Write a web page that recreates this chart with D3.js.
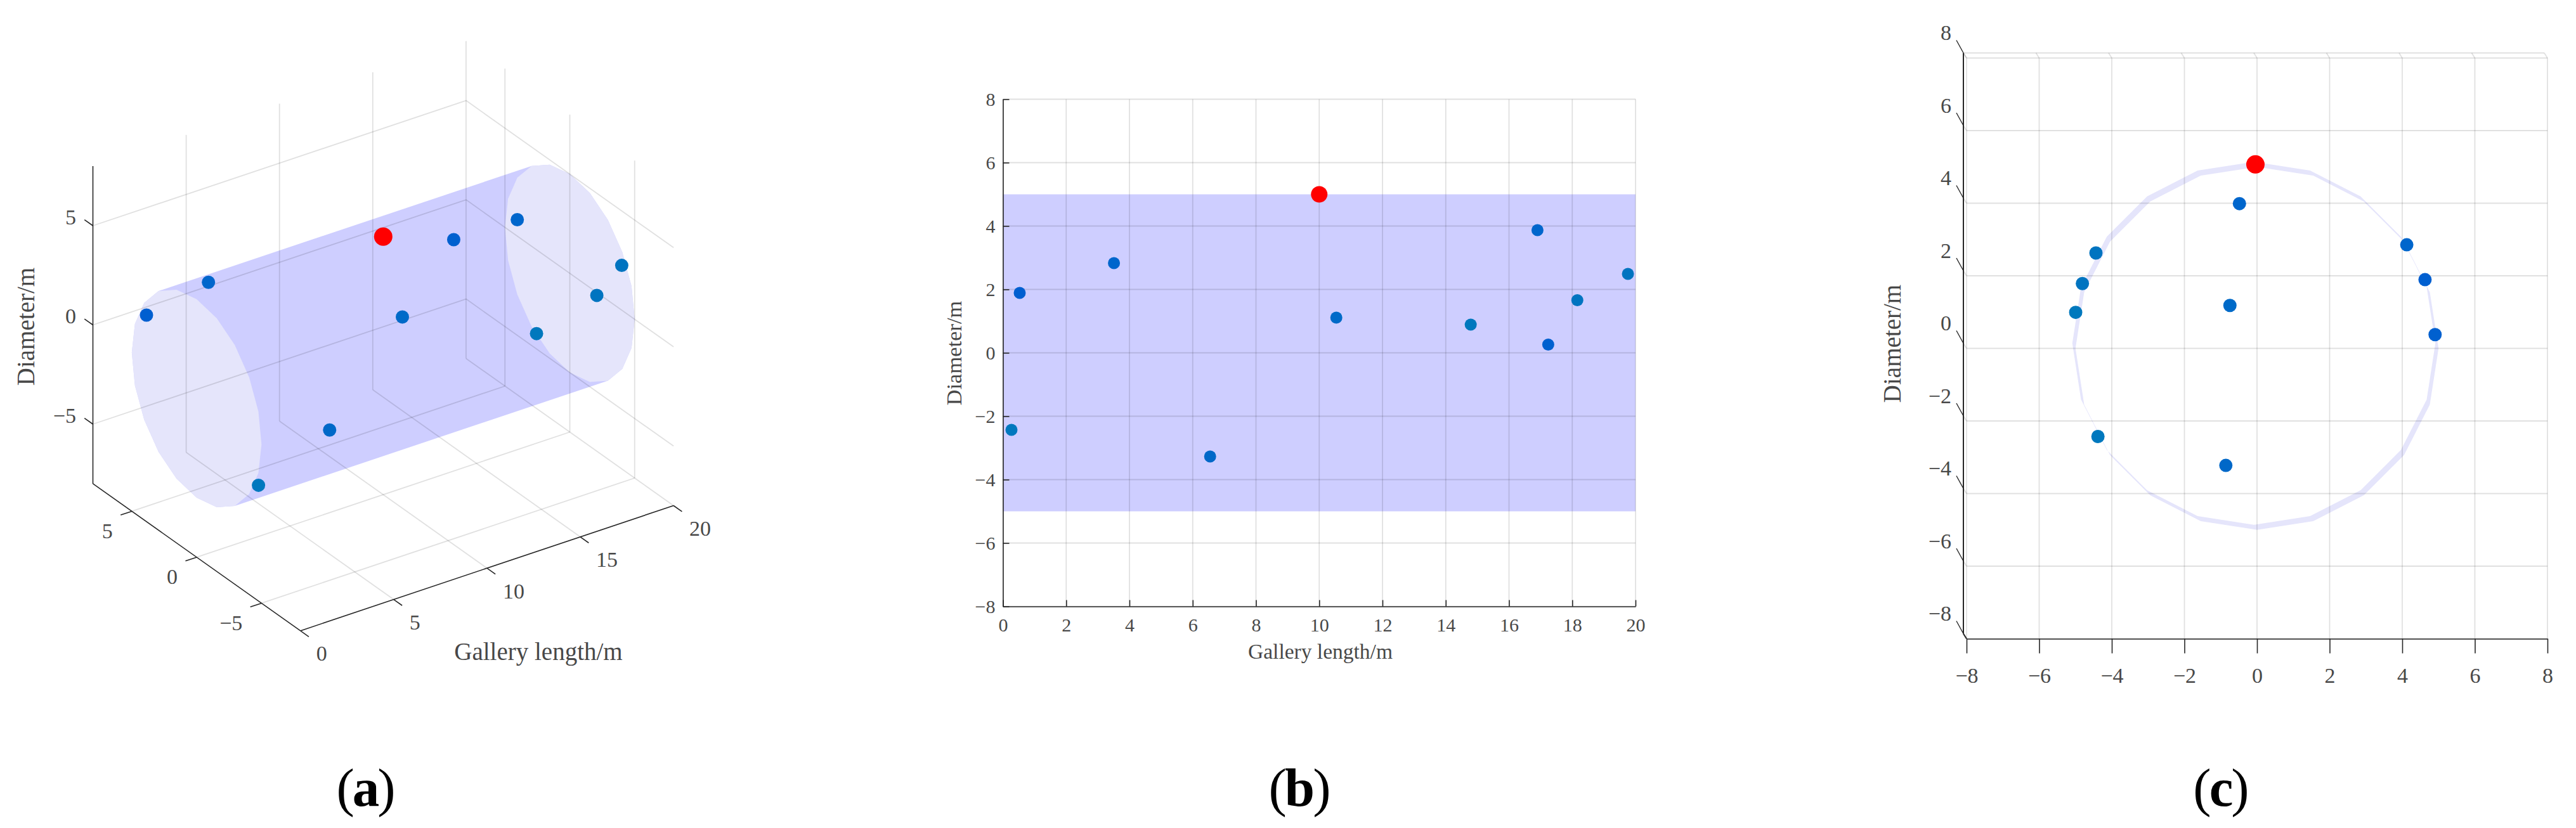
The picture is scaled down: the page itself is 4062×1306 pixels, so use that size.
<!DOCTYPE html>
<html>
<head>
<meta charset="utf-8">
<script src="https://cdn.jsdelivr.net/npm/d3@7"></script>
<style>
  html, body { margin: 0; background: #fff; }
  text { font-family: "Liberation Serif", serif; fill: #484848; }
</style>
</head>
<body>
<div class="graphHere"></div>
<script>
// measured points: position along the gallery, across it, and height
var galleryLength = [0.27, 0.53, 3.51, 6.55, 10.54, 14.79, 16.9, 17.24, 18.16, 19.76];
var acrossGallery = [-4.38, 4.63, 4.14, -0.83, -0.7, -4.93, -0.41, 4.98, -4.73, -4.35];
var diameterValue = [-2.43, 1.89, 2.83, -3.27, 1.11, 0.89, 3.87, 0.26, 1.66, 2.49];

// the red point
var redLength = [10];
var redAcross = [0];
var redDiameter = [5];

// gallery outline, 20 sided
var ringAcross = [5, 4.76, 4.05, 2.94, 1.55, 0, -1.55, -2.94, -4.05, -4.76, -5, -4.76, -4.05, -2.94, -1.55, 0, 1.55, 2.94, 4.05, 4.76];
var ringHeight = [0, 1.55, 2.94, 4.05, 4.76, 5, 4.76, 4.05, 2.94, 1.55, 0, -1.55, -2.94, -4.05, -4.76, -5, -4.76, -4.05, -2.94, -1.55];
var galleryEnds = [0, 20];
var galleryBand = [-5, 5];

// tick labels
var ticksA_length = [0, 5, 10, 15, 20];
var ticksA_across = [-5, 0, 5];
var ticksA_height = [-5, 0, 5];
var ticksB_length = [0, 2, 4, 6, 8, 10, 12, 14, 16, 18, 20];
var ticksEight = [-8, -6, -4, -2, 0, 2, 4, 6, 8];

var dotFill = ["#0078be", "#005fd0", "#0066cc", "#0068c8", "#006ac8", "#0078bd", "#0066cc", "#0060cf", "#0074c0", "#0074c0"];
var gridColor = "rgba(0,0,0,0.12)";
var axisColor = "#262626";
var bodyColor = "#ceceff";
var capColor = "#e5e5fb";
var ribbonColor = "#e5e5fb";

var points = galleryLength.map(function(d, i){
  return {x: d, y: acrossGallery[i], z: diameterValue[i], fill: dotFill[i]};
});
var redPoints = redLength.map(function(d, i){
  return {x: d, y: redAcross[i], z: redDiameter[i]};
});

var svg = d3.select(".graphHere").append("svg")
  .attr("width", 4062)
  .attr("height", 1306)
  .style("display", "block");

function minus(d){ return String(d).replace("-", "\u2212"); }

function gridLine(g, p1, p2){
  g.append("line").attr("x1", p1[0]).attr("y1", p1[1]).attr("x2", p2[0]).attr("y2", p2[1])
    .attr("stroke", gridColor).attr("stroke-width", 1.8);
}
function axisLine(g, p1, p2, w){
  g.append("line").attr("x1", p1[0]).attr("y1", p1[1]).attr("x2", p2[0]).attr("y2", p2[1])
    .attr("stroke", axisColor).attr("stroke-width", w || 1.6);
}
function label(g, txt, x, y, size, anchor){
  return g.append("text").attr("x", x).attr("y", y).attr("font-size", size)
    .attr("text-anchor", anchor || "middle").attr("dominant-baseline", "central").text(txt);
}
function sideLabel(g, txt, x, y, size){
  g.append("text").attr("transform", "translate(" + x + "," + y + ") rotate(-90)")
    .attr("font-size", size).attr("text-anchor", "middle").attr("dominant-baseline", "central").text(txt);
}
function caption(letter, x){
  var t = svg.append("text").attr("x", x).attr("y", 1271).attr("font-size", 85)
    .attr("letter-spacing", -3)
    .attr("text-anchor", "middle").style("fill", "#000");
  t.append("tspan").text("(");
  t.append("tspan").attr("font-weight", "bold").text(letter);
  t.append("tspan").text(")");
}
// each screen coordinate is the sum of one linear scale per data axis
function makeView(sxX, syX, syY, szZ, sxY, X0, Y0){
  return function(x, y, z){
    return [X0 + sxX(x) + syX(y), Y0 + sxY(x) + syY(y) + szZ(z)];
  };
}
function ringPath(project, xAt){
  return "M" + ringAcross.map(function(y, i){
    return project(xAt, y, ringHeight[i]).join(",");
  }).join("L") + "Z";
}
function drawDots(g, project, r, redR){
  g.selectAll("circle.blue").data(points).enter().append("circle").attr("class", "blue")
    .attr("cx", function(d){ return project(d.x, d.y, d.z)[0]; })
    .attr("cy", function(d){ return project(d.x, d.y, d.z)[1]; })
    .attr("r", r)
    .attr("fill", function(d){ return d.fill; });
  g.selectAll("circle.red").data(redPoints).enter().append("circle").attr("class", "red")
    .attr("cx", function(d){ return project(d.x, d.y, d.z)[0]; })
    .attr("cy", function(d){ return project(d.x, d.y, d.z)[1]; })
    .attr("r", redR)
    .attr("fill", "#ff0000");
}

/* ---------- panel a ---------- */
var a = svg.append("g");
var viewA = makeView(
  d3.scaleLinear().domain([0, 20]).range([0, 588.4]),
  d3.scaleLinear().domain([-8, 8]).range([163.6, -163.6]),
  d3.scaleLinear().domain([-8, 8]).range([116, -116]),
  d3.scaleLinear().domain([-8, 8]).range([250.4, -250.4]),
  d3.scaleLinear().domain([0, 20]).range([0, -197.4]),
  310.1, 628.5
);

var ringPts = [];
galleryEnds.forEach(function(xAt){
  ringAcross.forEach(function(y, i){ ringPts.push(viewA(xAt, y, ringHeight[i])); });
});
a.append("path").attr("d", "M" + d3.polygonHull(ringPts).join("L") + "Z").attr("fill", bodyColor);
galleryEnds.forEach(function(xAt){
  a.append("path").attr("d", ringPath(viewA, xAt)).attr("fill", capColor);
});

ticksA_height.forEach(function(z){
  gridLine(a, viewA(0, 8, z), viewA(20, 8, z));
  gridLine(a, viewA(20, 8, z), viewA(20, -8, z));
});
ticksA_length.filter(function(x){ return x > 0; }).forEach(function(x){
  gridLine(a, viewA(x, 8, -8), viewA(x, 8, 8));
  gridLine(a, viewA(x, 8, -8), viewA(x, -8, -8));
});
ticksA_across.forEach(function(y){
  gridLine(a, viewA(20, y, -8), viewA(20, y, 8));
  gridLine(a, viewA(0, y, -8), viewA(20, y, -8));
});

axisLine(a, viewA(0, 8, -8), viewA(0, 8, 8));
axisLine(a, viewA(0, 8, -8), viewA(0, -8, -8));
axisLine(a, viewA(0, -8, -8), viewA(20, -8, -8));

ticksA_height.forEach(function(z){
  axisLine(a, viewA(0, 8, z), viewA(0, 8.65, z));
  label(a, minus(z), 120, viewA(0, 8, z)[1] - 14, 34, "end");
});
ticksA_across.forEach(function(y){
  var p = viewA(0, y, -8);
  axisLine(a, p, viewA(-0.6, y, -8));
  label(a, minus(y), p[0] - 30, p[1] + 31, 34, "end");
});
ticksA_length.forEach(function(x){
  var p = viewA(x, -8, -8);
  axisLine(a, p, viewA(x, -8.65, -8));
  label(a, minus(x), p[0] + 25, p[1] + 36, 34, "start");
});
drawDots(a, viewA, 10.5, 14.5);
label(a, "Gallery length/m", 849, 1027, 39);
sideLabel(a, "Diameter/m", 40, 515, 39);
caption("a", 575.5);

/* ---------- panel b ---------- */
var b = svg.append("g");
var xB = d3.scaleLinear().domain([0, 20]).range([1581.5, 2579]);
var yB = d3.scaleLinear().domain([-8, 8]).range([956.5, 156.5]);

b.append("rect")
  .attr("x", xB(0)).attr("width", xB(20) - xB(0))
  .attr("y", yB(galleryBand[1])).attr("height", yB(galleryBand[0]) - yB(galleryBand[1]))
  .attr("fill", bodyColor);
ticksB_length.forEach(function(x){
  gridLine(b, [xB(x), yB(-8)], [xB(x), yB(8)]);
});
ticksEight.forEach(function(z){
  gridLine(b, [xB(0), yB(z)], [xB(20), yB(z)]);
});

function styleAxis(g, size){
  g.attr("color", axisColor).attr("font-family", null);
  g.selectAll("path.domain").attr("stroke-width", 1.6);
  g.selectAll(".tick line").attr("stroke-width", 1.6);
  g.selectAll(".tick text").attr("font-size", size);
}
b.append("g").attr("transform", "translate(0," + yB(-8) + ")")
  .call(d3.axisBottom(xB).tickValues(ticksB_length).tickFormat(minus).tickSizeInner(-10).tickSizeOuter(0).tickPadding(18))
  .call(styleAxis, 30);
b.append("g").attr("transform", "translate(" + xB(0) + ",0)")
  .call(d3.axisLeft(yB).tickValues(ticksEight).tickFormat(minus).tickSizeInner(-10).tickSizeOuter(0).tickPadding(12))
  .call(styleAxis, 30);

drawDots(b, function(x, y, z){ return [xB(x), yB(z)]; }, 9.5, 13);
label(b, "Gallery length/m", 2082, 1027, 33.5);
sideLabel(b, "Diameter/m", 1504, 557, 34.5);
caption("b", 2048);

/* ---------- panel c ---------- */
var c = svg.append("g");
var xC = d3.scaleLinear().domain([-8, 8]).range([3101, 4017]);
var yC = d3.scaleLinear().domain([-8, 8]).range([1007.5, 91.5]);
var depthX = d3.scaleLinear().domain([0, 20]).range([0, -5]);
var depthY = d3.scaleLinear().domain([0, 20]).range([0, -8]);
function viewC(x, y, z){
  return [xC(y) + depthX(x), yC(z) + depthY(x)];
}

c.append("path")
  .attr("d", ringPath(viewC, 0) + ringPath(viewC, 20))
  .attr("fill", ribbonColor)
  .attr("fill-rule", "evenodd");

ticksEight.forEach(function(v){
  gridLine(c, viewC(0, v, -8), viewC(0, v, 8));
  gridLine(c, viewC(0, v, 8), viewC(20, v, 8));
  gridLine(c, viewC(0, -8, v), viewC(0, 8, v));
  gridLine(c, viewC(0, -8, v), viewC(20, -8, v));
});
gridLine(c, viewC(20, -8, 8), viewC(20, 8, 8));

c.append("g").attr("transform", "translate(0," + yC(-8) + ")")
  .call(d3.axisBottom(xC).tickValues(ticksEight).tickFormat(minus).tickSizeInner(23).tickSizeOuter(0).tickPadding(22))
  .call(styleAxis, 34);

axisLine(c, viewC(20, -8, -8), viewC(20, -8, 8), 2);
axisLine(c, viewC(20, -8, -8), viewC(0, -8, -8), 2);
ticksEight.forEach(function(z){
  var p = viewC(20, -8, z);
  axisLine(c, p, [p[0] - 11, p[1] - 20], 1.4);
  label(c, minus(z), 3077, yC(z) - 40, 34, "end");
});

drawDots(c, viewC, 10.5, 14.5);
sideLabel(c, "Diameter/m", 2983, 542, 39);
caption("c", 3501);
</script>
</body>
</html>
